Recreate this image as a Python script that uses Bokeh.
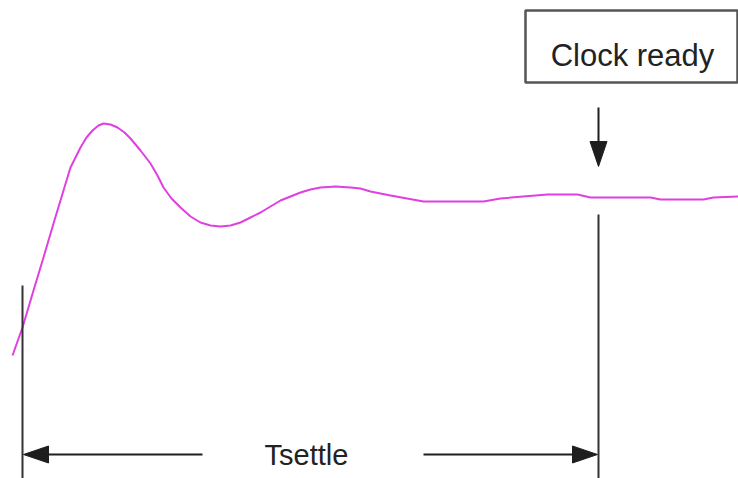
from bokeh.plotting import figure
from bokeh.models import Range1d
from bokeh.core.properties import value
from bokeh.embed import file_html
from bokeh.resources import INLINE

# Settling waveform (x: time, y: level; screen-like units, y grows downward)
curve_x = [12, 22, 33, 43, 53, 63, 70, 76, 80, 86, 92, 98, 103, 110, 117, 124, 130,
           140, 150, 157, 163, 171, 180, 190, 200, 210, 220, 230, 240, 250, 260,
           270, 280, 290, 300, 310, 320, 335, 350, 360, 370, 390, 423, 483, 500,
           547, 577, 590, 650, 660, 703, 713, 738]
curve_y = [355, 327, 290, 257, 223, 190, 167, 155, 147, 137, 130, 125, 123, 124,
           127, 132, 138, 150, 163, 175, 187, 198, 207, 216, 222, 225, 226, 225,
           222, 217, 212, 206, 200, 196, 192, 189, 187, 186, 187, 188, 191, 195,
           201, 201, 198, 194, 194, 197, 197, 199, 199, 197, 196]

t_start = 22          # start of settling interval
t_ready = 598         # clock ready instant
label_ready = "Clock ready"
label_settle = "Tsettle"

W, H = 738, 478
p = figure(width=W, height=H, output_backend="svg", toolbar_location=None,
           x_range=Range1d(0, W), y_range=Range1d(H, 0),
           min_border=0, outline_line_color=None, background_fill_color="white",
           border_fill_color="white")
p.axis.visible = False
p.grid.visible = False

INK = "#1e1e1e"


def head(tip_x, tip_y, dx, dy, length, width):
    """Triangle arrowhead: tip point, unit direction of travel, length and width."""
    bx, by = tip_x - dx * length, tip_y - dy * length
    nx, ny = -dy * width / 2, dx * width / 2
    return [tip_x, bx + nx, bx - nx], [tip_y, by + ny, by - ny]


# waveform
p.line(curve_x, curve_y, line_color="#E040E0", line_width=2, line_join="round")

# vertical markers
p.segment(x0=[t_start, t_ready], y0=[285, 214], x1=[t_start, t_ready], y1=[H + 5, H + 5],
          line_color="#333333", line_width=2)

# Clock ready box + label
p.quad(left=[525], right=[737], top=[10], bottom=[82], fill_color="white",
       line_color="#555555", line_width=2.5)
p.text(x=[632], y=[55], text=[label_ready], text_align="center", text_baseline="alphabetic",
       text_font=value("Liberation Sans"), text_font_size="31px", text_color="#222222")

# down arrow to the curve
arrow_y0, arrow_tip = 107, 166
p.segment(x0=[t_ready], y0=[arrow_y0], x1=[t_ready], y1=[arrow_tip - 20],
          line_color=INK, line_width=2)
hx, hy = head(t_ready, arrow_tip, 0, 1, 25, 17)
p.patch(hx, hy, fill_color=INK, line_color=INK)

# Tsettle dimension arrows
dim_y = 454
p.segment(x0=[t_start + 20, 423], y0=[dim_y, dim_y], x1=[202, t_ready - 20], y1=[dim_y, dim_y],
          line_color=INK, line_width=2)
lx, ly = head(t_start + 1, dim_y, -1, 0, 25, 17)
rx, ry = head(t_ready - 1, dim_y, 1, 0, 25, 17)
p.patches([lx, rx], [ly, ry], fill_color=INK, line_color=INK)
p.text(x=[306], y=[454], text=[label_settle], text_align="center", text_baseline="middle",
       text_font=value("Liberation Sans"), text_font_size="29px", text_color="#222222")

open("out.html", "w").write(file_html(p, INLINE))
